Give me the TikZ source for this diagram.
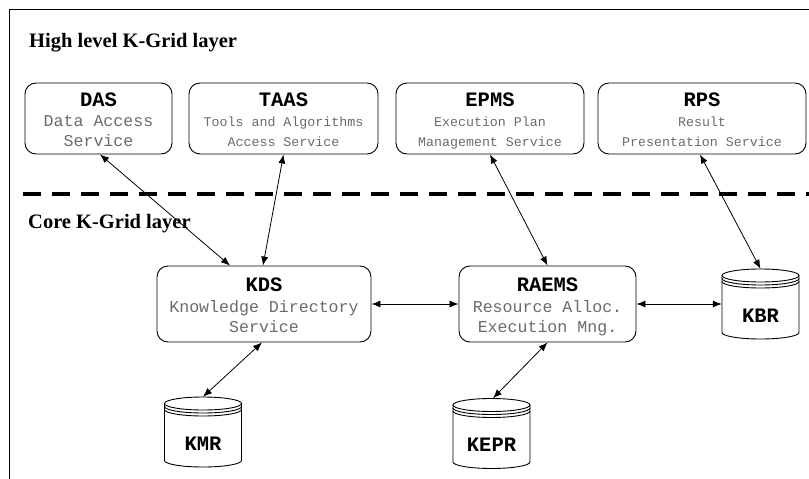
\documentclass[tikz,border=0pt]{standalone}
\usepackage{fontspec}
\setmainfont{Liberation Serif}
\newfontfamily\kmono{Liberation Mono}
\usetikzlibrary{arrows.meta,calc}
\definecolor{kgray}{gray}{0.42}
\tikzset{
  kbox/.style={draw, rounded corners=11pt, line width=0.9pt, inner sep=0pt},
  ktitle/.style={anchor=base, inner sep=0pt, font=\kmono\bfseries\fontsize{20.5}{24}\selectfont},
  kbodyL/.style={anchor=base, inner sep=0pt, text=kgray, font=\kmono\fontsize{16.6}{20}\selectfont},
  kbodyS/.style={anchor=base, inner sep=0pt, text=kgray, font=\kmono\fontsize{13.3}{16}\selectfont},
  klayer/.style={anchor=base west, inner sep=0pt, font=\bfseries\fontsize{20.5}{24}\selectfont},
  kcyl/.style={inner sep=0pt, minimum width=77pt, minimum height=70pt},
  kcylline/.style={line width=0.9pt},
  klink/.style={line width=0.8pt, {Latex[length=9pt,width=7pt]}-{Latex[length=9pt,width=7pt]}},
  ksep/.style={line width=3.5pt, dash pattern=on 18pt off 11pt},
}
\newcommand\kgbox[9]{%
  \node[kbox, minimum width=#4pt, minimum height=#5pt] (#1) at (#2,#3) {};
  \node[ktitle] (#1-t) at ($(#1.center)+(0,-12.5)$) {#6};
  \node[#9] (#1-a) at ($(#1.center)+(0,8.2)$) {#7};
  \node[#9] (#1-b) at ($(#1.center)+(0,28.2)$) {#8};
}
\newcommand\kgcyl[4]{%
  \node[kcyl] (#1) at (#2,#3) {};
  \draw[kcylline] ($(#1.center)+(-38.5,-28.5)$) -- ($(#1.center)+(-38.5,28.5)$)
     arc[start angle=180, end angle=360, x radius=38.5pt, y radius=6.5pt]
     -- ($(#1.center)+(38.5,-28.5)$);
  \draw[kcylline] ($(#1.center)+(0,-28.5)$) ellipse[x radius=38.5pt, y radius=6.5pt];
  \draw[kcylline] ($(#1.center)+(-38.5,-25.5)$) arc[start angle=180, end angle=360, x radius=38.5pt, y radius=6.5pt];
  \draw[kcylline] ($(#1.center)+(-38.5,-22.5)$) arc[start angle=180, end angle=360, x radius=38.5pt, y radius=6.5pt];
  \node[ktitle] (#1-l) at ($(#1.center)+(0,18)$) {#4};
}
\begin{document}
\begin{tikzpicture}[x=1pt,y=-1pt]
\useasboundingbox (0,0) rectangle (809,479);
\draw[line width=0.9pt] (9,479) -- (9,9) -- (809,9);

\node[klayer] (hl) at (29,47) {High level K-Grid layer};
\node[klayer] (core) at (28,228) {Core K-Grid layer};

\draw[ksep] (23,194) -- (809,194);

\kgbox{das}{98.5}{118.5}{147}{71}{DAS}{Data Access}{Service}{kbodyL}
\kgbox{taas}{283.5}{118.5}{189}{71}{TAAS}{Tools and Algorithms}{Access Service}{kbodyS}
\kgbox{epms}{490}{118.5}{188}{71}{EPMS}{Execution Plan}{Management Service}{kbodyS}
\kgbox{rps}{702}{118.5}{208}{71}{RPS}{Result}{Presentation Service}{kbodyS}
\kgbox{kds}{264}{304}{214}{76}{KDS}{Knowledge Directory}{Service}{kbodyL}
\kgbox{raems}{547.5}{304}{177}{76}{RAEMS}{Resource Alloc.}{Execution Mng.}{kbodyL}

\kgcyl{kmr}{203}{432}{KMR}
\kgcyl{kepr}{491.5}{433.5}{KEPR}
\kgcyl{kbr}{760.5}{304}{KBR}

\draw[klink] ([xshift=1.5pt]das.south) -- ([xshift=-34pt]kds.north);
\draw[klink] (taas.south) -- ([xshift=-1pt]kds.north);
\draw[klink] (epms.south) -- (raems.north);
\draw[klink] ([xshift=-2pt]rps.south) -- (kbr.north);
\draw[klink] (kds.east) -- (raems.west);
\draw[klink] (raems.east) -- (kbr.west);
\draw[klink] ([xshift=-2pt]kds.south) -- (kmr.north);
\draw[klink] (raems.south) -- ([xshift=1.5pt]kepr.north);
\end{tikzpicture}
\end{document}
